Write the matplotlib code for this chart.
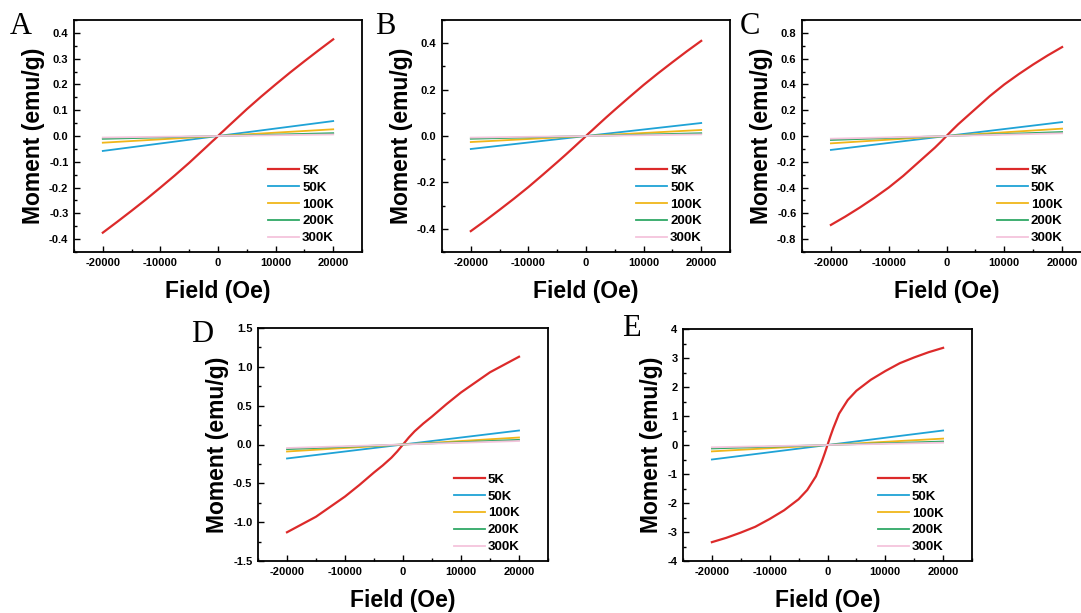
import matplotlib
matplotlib.use("Agg")
import matplotlib.pyplot as plt
from matplotlib.ticker import MultipleLocator

plt.rcParams['font.family'] = ['Liberation Sans', 'DejaVu Sans']

# ---------------- data ----------------
field = [-20000, -17500, -15000, -12500, -10000, -7500, -5000, -3500, -2000, -1000, -500, 0,
         500, 1000, 2000, 3500, 5000, 7500, 10000, 12500, 15000, 17500, 20000]
field_lin = [-20000, 0, 20000]

labels = ["5K", "50K", "100K", "200K", "300K"]
colors = ["#dc2a2a", "#1fa3d6", "#f0b61a", "#2fa866", "#f4c4dc"]

m5_A = [-0.375, -0.333, -0.290, -0.246, -0.200, -0.153, -0.104, -0.073, -0.042, -0.021, -0.011, 0.0,
        0.011, 0.021, 0.042, 0.073, 0.104, 0.153, 0.200, 0.246, 0.290, 0.333, 0.375]
m5_B = [-0.410, -0.365, -0.318, -0.270, -0.220, -0.167, -0.113, -0.080, -0.046, -0.023, -0.012, 0.0,
        0.012, 0.023, 0.046, 0.080, 0.113, 0.167, 0.220, 0.270, 0.318, 0.365, 0.410]
m5_C = [-0.690, -0.625, -0.555, -0.480, -0.400, -0.310, -0.210, -0.150, -0.090, -0.046, -0.023, 0.0,
        0.023, 0.046, 0.090, 0.150, 0.210, 0.310, 0.400, 0.480, 0.555, 0.625, 0.690]
m5_D = [-1.13, -1.03, -0.93, -0.80, -0.67, -0.52, -0.36, -0.27, -0.17, -0.09, -0.045, 0.0,
        0.045, 0.09, 0.17, 0.27, 0.36, 0.52, 0.67, 0.80, 0.93, 1.03, 1.13]
m5_E = [-3.35, -3.20, -3.02, -2.82, -2.55, -2.25, -1.87, -1.55, -1.08, -0.58, -0.30, 0.0,
        0.30, 0.58, 1.08, 1.55, 1.87, 2.25, 2.55, 2.82, 3.02, 3.20, 3.35]

lin_A = {"50K": [-0.058, 0.0, 0.058], "100K": [-0.026, 0.0, 0.026],
         "200K": [-0.011, 0.0, 0.011], "300K": [-0.006, 0.0, 0.006]}
lin_B = {"50K": [-0.056, 0.0, 0.056], "100K": [-0.026, 0.0, 0.026],
         "200K": [-0.012, 0.0, 0.012], "300K": [-0.007, 0.0, 0.007]}
lin_C = {"50K": [-0.108, 0.0, 0.108], "100K": [-0.057, 0.0, 0.057],
         "200K": [-0.031, 0.0, 0.031], "300K": [-0.021, 0.0, 0.021]}
lin_D = {"50K": [-0.18, 0.0, 0.18], "100K": [-0.09, 0.0, 0.09],
         "200K": [-0.06, 0.0, 0.06], "300K": [-0.045, 0.0, 0.045]}
lin_E = {"50K": [-0.50, 0.0, 0.50], "100K": [-0.22, 0.0, 0.22],
         "200K": [-0.12, 0.0, 0.12], "300K": [-0.08, 0.0, 0.08]}

x_ticks = [-20000, -10000, 0, 10000, 20000]

# ---------------- layout ----------------
W, H = 1081, 613
fig = plt.figure(figsize=(W / 100, H / 100), dpi=100)

def px_axes(x0, y0, x1, y1):
    return fig.add_axes([x0 / W, 1 - y1 / H, (x1 - x0) / W, (y1 - y0) / H])

panels = [
    # letter, box(px), letter pos(px), m5, lin, ylim, major, minor, fmt
    ("A", (74, 20, 362, 252), (21, 26), m5_A, lin_A, 0.45, 0.1, 0.05, "{:.1f}"),
    ("B", (442, 20, 730, 252), (385, 26), m5_B, lin_B, 0.5, 0.2, 0.1, "{:.1f}"),
    ("C", (802, 20, 1091, 252), (750, 26), m5_C, lin_C, 0.9, 0.2, 0.1, "{:.1f}"),
    ("D", (258, 328, 548, 561), (202, 335), m5_D, lin_D, 1.5, 0.5, 0.25, "{:.1f}"),
    ("E", (683, 329, 972, 561), (631, 328), m5_E, lin_E, 4.0, 1.0, 0.5, "{:.0f}"),
]

for letter, box, lpos, m5, lin, ylim, major, minor, fmt in panels:
    ax = px_axes(*box)
    ax.plot(field, m5, color=colors[0], lw=1.6, label=labels[0])
    for lab, col in zip(labels[1:], colors[1:]):
        ax.plot(field_lin, lin[lab], color=col, lw=1.3, label=lab)
    ax.set_xlim(-25000, 25000)
    ax.set_ylim(-ylim, ylim)
    ax.set_xticks(x_ticks)
    ax.set_xticklabels([str(v) for v in x_ticks])
    ax.xaxis.set_minor_locator(MultipleLocator(5000))
    ax.yaxis.set_major_locator(MultipleLocator(major))
    ax.yaxis.set_minor_locator(MultipleLocator(minor))
    yt = ax.get_yticks()
    yt = [v for v in yt if -ylim - 1e-9 <= v <= ylim + 1e-9]
    ax.set_yticks(yt)
    ax.set_yticklabels([fmt.format(v + 0.0) if abs(v) > 1e-12 else fmt.format(0.0) for v in yt])
    ax.tick_params(which='both', direction='in', top=False, right=False, width=1.0)
    ax.tick_params(which='major', length=4, labelsize=8, pad=4)
    ax.tick_params(which='minor', length=2)
    for t in ax.get_xticklabels() + ax.get_yticklabels():
        t.set_fontweight('bold')
    for s in ax.spines.values():
        s.set_linewidth(1.3)
    ax.set_xlabel("Field (Oe)", fontsize=16.5, fontweight='bold', labelpad=9)
    ax.set_ylabel("Moment (emu/g)", fontsize=16.5, fontweight='bold', labelpad=3)
    leg = ax.legend(loc='lower right', bbox_to_anchor=(0.925, 0.004), frameon=False,
                    prop={'weight': 'bold', 'size': 9.5}, handlelength=2.35,
                    handletextpad=0.25, labelspacing=0.36, borderpad=0)
    fig.text(lpos[0] / W, 1 - lpos[1] / H, letter, fontsize=22,
             family=['Liberation Serif', 'DejaVu Serif'], ha='center', va='center')

fig.savefig("out.png", dpi=100)
